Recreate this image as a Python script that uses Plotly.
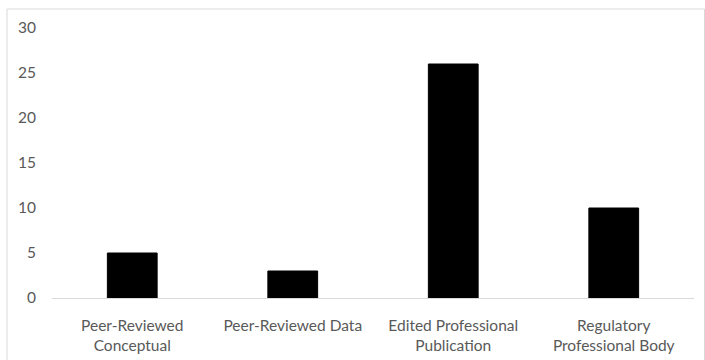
import plotly.graph_objects as go

categories = [
    "Peer-Reviewed<br>Conceptual",
    "Peer-Reviewed Data",
    "Edited Professional<br>Publication",
    "Regulatory<br>Professional Body",
]
counts = [5, 3, 26, 10]
y_ticks = [0, 5, 10, 15, 20, 25, 30]

fig = go.Figure(
    go.Bar(
        x=categories,
        y=counts,
        marker=dict(color="#000000", line=dict(color="#000000", width=1)),
        width=0.31,
    )
)

font = dict(family="Lato, Carlito, Calibri, sans-serif", size=15.5, color="#595959")

fig.update_layout(
    width=705,
    height=360,
    margin=dict(l=52, r=11, t=28, b=62),
    paper_bgcolor="white",
    plot_bgcolor="white",
    showlegend=False,
    font=font,
    xaxis=dict(
        showline=True,
        linecolor="#d9d9d9",
        linewidth=1,
        showgrid=False,
        ticks="",
        tickfont=font,
        ticklabelstandoff=13,
        automargin=False,
    ),
    yaxis=dict(
        range=[0, 30],
        tickvals=y_ticks,
        showgrid=False,
        showline=False,
        zeroline=False,
        ticks="",
        tickfont=font,
        ticklabelstandoff=15,
        automargin=False,
    ),
    shapes=[
        dict(
            type="rect",
            xref="paper",
            yref="paper",
            x0=(7 - 52) / 642,
            x1=(704.5 - 52) / 642,
            y0=-0.3,
            y1=1 + (28 - 9) / 270,
            line=dict(color="#d9d9d9", width=1),
            fillcolor="rgba(0,0,0,0)",
            layer="below",
        )
    ],
)

fig.write_html("out.html")
